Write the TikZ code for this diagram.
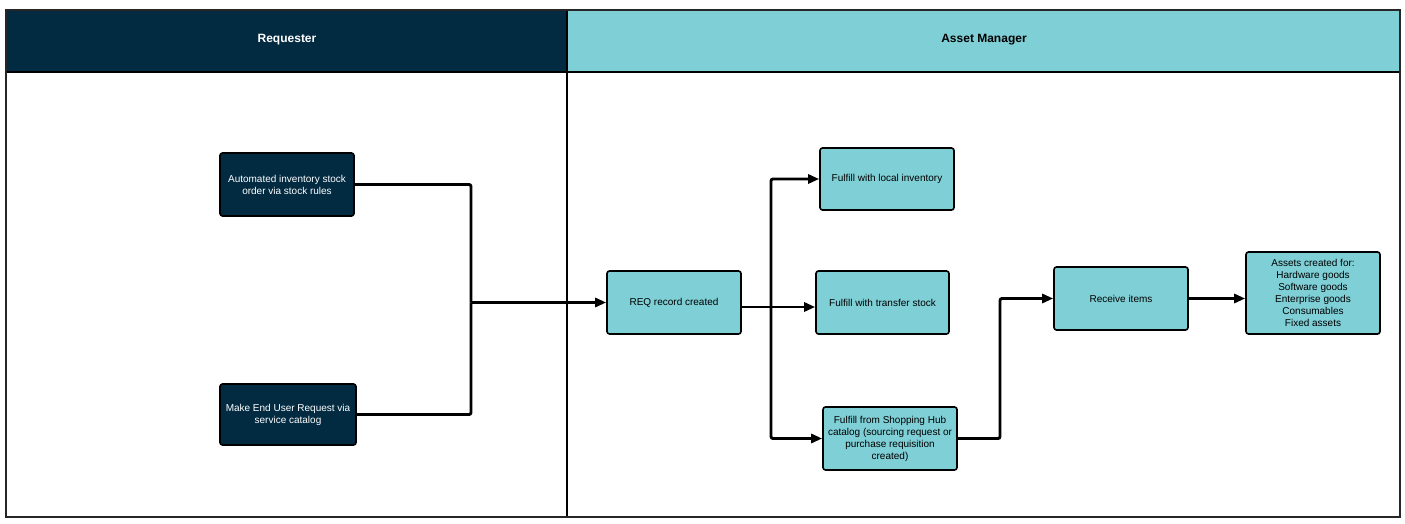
\documentclass[tikz,border=0pt]{standalone}
\usepackage{fontspec}
\setmainfont{Liberation Sans}
\usetikzlibrary{arrows.meta,calc}
\definecolor{navy}{HTML}{022B42}
\definecolor{teal}{HTML}{7FCFD6}
\tikzset{
  boxbase/.style={draw=black,line width=1.6pt,rounded corners=2.5pt,align=center,
    font=\fontsize{10}{12}\selectfont,inner sep=2pt,anchor=center},
  darkbox/.style={boxbase,fill=navy,text=white},
  lightbox/.style={boxbase,fill=teal,text=black},
  conn/.style={line width=2.9pt,rounded corners=2pt},
  arr/.style={-{Triangle[length=11pt,width=9pt]}},
  hdr/.style={font=\bfseries\fontsize{12}{14}\selectfont}
}
\begin{document}
\begin{tikzpicture}[x=1pt,y=-1pt]
\useasboundingbox (0,0) rectangle (1405,524);
% lanes
\fill[navy] (6,10) rectangle (567,72);
\fill[teal] (567,10) rectangle (1400,72);
\draw[line width=1.2pt] (6,72) -- (1400,72);
\draw[line width=1.2pt] (567,10) -- (567,517);
\draw[line width=1.6pt,draw=black!85] (6,10) rectangle (1400,517);
\node[hdr,text=white] (h1) at (287,40) {Requester};
\node[hdr,text=black] (h2) at (984,40) {Asset Manager};
% nodes
\node[darkbox,minimum width=134pt,minimum height=63pt] (auto) at (287,184.5) {Automated inventory stock\\order via stock rules};
\node[darkbox,minimum width=136pt,minimum height=61pt] (make) at (288,414.5) {Make End User Request via\\service catalog};
\node[lightbox,minimum width=134pt,minimum height=63pt] (req) at (674,302.5) {REQ record created};
\node[lightbox,minimum width=134pt,minimum height=62pt] (local) at (887,179) {Fulfill with local inventory};
\node[lightbox,minimum width=133pt,minimum height=63pt] (transfer) at (882.5,302.5) {Fulfill with transfer stock};
\node[lightbox,minimum width=134pt,minimum height=63pt] (shop) at (890,438.5) {Fulfill from Shopping Hub\\catalog (sourcing request or\\purchase requisition\\created)};
\node[lightbox,minimum width=134pt,minimum height=63pt] (recv) at (1121,298.5) {Receive items};
\node[lightbox,minimum width=134pt,minimum height=82pt] (assets) at (1313,293) {Assets created for:\\Hardware goods\\Software goods\\Enterprise goods\\Consumables\\Fixed assets};
% connectors
\coordinate (m) at (471,302.5);
\coordinate (v) at (771,307);
\coordinate (k) at (1000,370);
\draw[conn] (auto.east) -| (m);
\draw[conn] (make.east) -| (m);
\draw[conn,arr] (m) -- (req.west);
\draw[conn,arr] ([yshift=-4.5pt]req.east) -- ([yshift=-4.5pt]transfer.west);
\draw[conn,arr] (v) |- (local.west);
\draw[conn,arr] (v) |- (shop.west);
\draw[conn,arr] (shop.east) -| (k) |- (recv.west);
\draw[line width=3.8pt,arr] (recv.east) -- (recv.east -| assets.west);
\end{tikzpicture}
\end{document}
